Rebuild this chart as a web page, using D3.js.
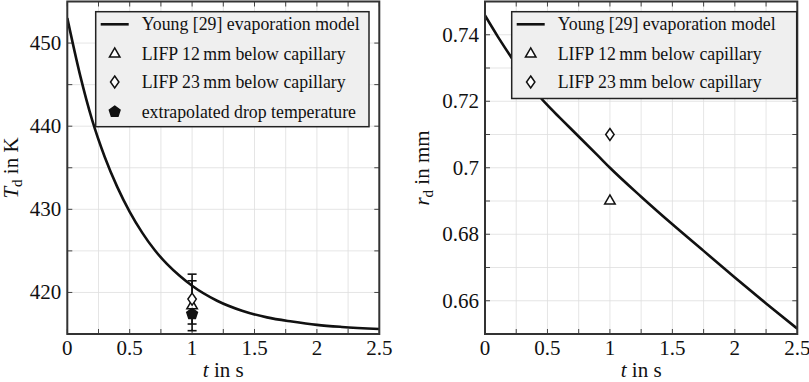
<!DOCTYPE html>
<html>
<head>
<meta charset="utf-8">
<script src="https://cdn.jsdelivr.net/npm/d3@7"></script>
<style>
  body { margin: 0; background: #fff; }
</style>
</head>
<body>
<svg id="chart" width="809" height="382"></svg>
<script>
// Young [29] evaporation model, temperature
const tempTime = [0, 0.1, 0.2, 0.3, 0.4, 0.5, 0.6, 0.7, 0.8, 0.9, 1.0, 1.2, 1.4, 1.6, 1.8, 2.0, 2.2, 2.5];
const tempModel = [453.0, 446.3, 440.7, 436.3, 432.7, 429.7, 427.2, 425.1, 423.4, 422.0, 420.8, 419.0, 417.8, 417.0, 416.5, 416.1, 415.85, 415.6];

// Young [29] evaporation model, radius
const radTime = [0, 0.1, 0.2, 0.3, 0.4, 0.5, 0.6, 0.75, 0.9, 1.0, 1.25, 1.5, 1.75, 2.0, 2.25, 2.5];
const radModel = [0.7458, 0.7396, 0.7338, 0.7282, 0.7231, 0.7188, 0.7150, 0.7094, 0.7038, 0.7000, 0.6913, 0.6830, 0.6750, 0.6670, 0.6592, 0.6516];

// measurements at t = 1 s
const lifp12Temp = { t: 1, v: 418.4, err: 3 };
const lifp23Temp = { t: 1, v: 419.2, err: 3 };
const extrapTemp = { t: 1, v: 417.4 };
const lifp12Rad = { t: 1, v: 0.690 };
const lifp23Rad = { t: 1, v: 0.710 };

const xTicks = [0, 0.5, 1, 1.5, 2, 2.5];
const xMinor = [0.25, 0.75, 1.25, 1.75, 2.25];
const tempTicks = [420, 430, 440, 450];
const tempMinor = [425, 435, 445];
const radTicks = [0.66, 0.68, 0.7, 0.72, 0.74];
const radMinor = [0.65, 0.67, 0.69, 0.71, 0.73, 0.75];

const legendLabels = [
    "Young [29] evaporation model",
    "LIFP 12\u2009mm below capillary",
    "LIFP 23\u2009mm below capillary",
    "extrapolated drop temperature"
];

const svg = d3.select("#chart");

function markerPath(type, size) {
    if (type === "triangle") return d3.symbol(d3.symbolTriangle, size)();
    if (type === "diamond") {
        const w = 4.2, h = 6;
        return `M0,${-h}L${w},0L0,${h}L${-w},0Z`;
    }
    // pentagon
    const r = 5.6;
    return d3.range(5).map((i, k) => {
        const a = -Math.PI / 2 + i * 2 * Math.PI / 5;
        return (k ? "L" : "M") + (r * Math.cos(a)).toFixed(2) + "," + (r * Math.sin(a)).toFixed(2);
    }).join("") + "Z";
}

function drawMarker(g, type, x, y) {
    g.append("path")
        .attr("d", markerPath(type, 48))
        .attr("transform", `translate(${x},${y})`)
        .attr("fill", type === "pentagon" ? "#111" : "#fff")
        .attr("stroke", "#111")
        .attr("stroke-width", 1.5);
}

function addText(g, size) {
    return g.append("text")
        .style("font-family", '"Liberation Serif"')
        .style("font-size", size + "px")
        .style("fill", "#111");
}

function drawPanel(cfg) {
    const g = svg.append("g");
    const x = d3.scaleLinear().domain([0, 2.5]).range([cfg.left, cfg.right]);
    const y = d3.scaleLinear().domain(cfg.yDomain).range([334, 1.5]);

    const clipId = "clip" + cfg.id;
    svg.append("clipPath").attr("id", clipId)
        .append("rect").attr("x", cfg.left).attr("y", 1.5)
        .attr("width", cfg.right - cfg.left).attr("height", 334 - 1.5);

    // grid
    const grid = g.append("g").attr("stroke", "#dedede").attr("stroke-width", 0.8);
    xTicks.concat(xMinor).forEach(v => {
        grid.append("line").attr("x1", x(v)).attr("x2", x(v)).attr("y1", y.range()[0]).attr("y2", y.range()[1]);
    });
    cfg.yTicks.concat(cfg.yMinor).forEach(v => {
        grid.append("line").attr("x1", cfg.left).attr("x2", cfg.right).attr("y1", y(v)).attr("y2", y(v));
    });

    // inward tick marks on all four sides
    const ticks = g.append("g").attr("stroke", "#444").attr("stroke-width", 1);
    xTicks.concat(xMinor).forEach(v => {
        ticks.append("line").attr("x1", x(v)).attr("x2", x(v)).attr("y1", 334).attr("y2", 329);
        ticks.append("line").attr("x1", x(v)).attr("x2", x(v)).attr("y1", 1.5).attr("y2", 6.5);
    });
    cfg.yTicks.concat(cfg.yMinor).forEach(v => {
        ticks.append("line").attr("x1", cfg.left).attr("x2", cfg.left + 5).attr("y1", y(v)).attr("y2", y(v));
        ticks.append("line").attr("x1", cfg.right).attr("x2", cfg.right - 5).attr("y1", y(v)).attr("y2", y(v));
    });

    // model curve
    const line = d3.line().x(d => x(d[0])).y(d => y(d[1])).curve(d3.curveMonotoneX);
    g.append("path")
        .attr("d", line(cfg.time.map((t, i) => [t, cfg.model[i]])))
        .attr("clip-path", `url(#${clipId})`)
        .attr("fill", "none")
        .attr("stroke", "#111")
        .attr("stroke-width", 2.6);

    // measurements
    cfg.points.forEach(p => {
        if (p.err) {
            const cx = x(p.t);
            const eb = g.append("g").attr("stroke", "#111").attr("stroke-width", 1.6);
            eb.append("line").attr("x1", cx).attr("x2", cx).attr("y1", y(p.v - p.err)).attr("y2", y(p.v + p.err));
            [p.v - p.err, p.v + p.err].forEach(v => {
                eb.append("line").attr("x1", cx - 4.5).attr("x2", cx + 4.5).attr("y1", y(v)).attr("y2", y(v));
            });
        }
    });
    cfg.points.forEach(p => drawMarker(g, p.type, x(p.t), y(p.v)));

    // frame
    g.append("rect")
        .attr("x", cfg.left).attr("y", 1.5)
        .attr("width", cfg.right - cfg.left).attr("height", 334 - 1.5)
        .attr("fill", "none").attr("stroke", "#333").attr("stroke-width", 2);

    // tick labels
    xTicks.forEach(v => {
        addText(g, 21).attr("x", x(v)).attr("y", 355)
            .attr("text-anchor", "middle")
            .text(d3.format("")(v));
    });
    cfg.yTicks.forEach(v => {
        addText(g, 21).attr("x", cfg.left - 6).attr("y", y(v) + 7)
            .attr("text-anchor", "end")
            .text(cfg.fmt(v));
    });

    // axis labels
    const xl = addText(g, 21).attr("x", (cfg.left + cfg.right) / 2).attr("y", 377)
        .attr("text-anchor", "middle");
    xl.append("tspan").style("font-style", "italic").text("t");
    xl.append("tspan").text(" in s");

    const yl = addText(g, 21)
        .attr("transform", `translate(${cfg.yLabelX},168) rotate(-90)`)
        .attr("text-anchor", "middle");
    yl.append("tspan").style("font-style", "italic").text(cfg.yVar);
    yl.append("tspan").attr("dy", 4).style("font-size", "15px").text("d");
    yl.append("tspan").attr("dy", -4).text(" " + cfg.yUnit);

    // legend
    const lg = g.append("g");
    lg.append("rect")
        .attr("x", cfg.legend.x).attr("y", 11.7)
        .attr("width", cfg.legend.w).attr("height", cfg.legend.h)
        .attr("fill", "#efefef").attr("stroke", "#222").attr("stroke-width", 1.5);
    const types = ["line", "triangle", "diamond", "pentagon"];
    const rows = [24.3, 54, 82, 111.7];
    cfg.legend.entries.forEach(i => {
        const cy = rows[i];
        const sx = cfg.legend.x + 19;
        if (types[i] === "line") {
            lg.append("line").attr("x1", sx - 14).attr("x2", sx + 14).attr("y1", cy).attr("y2", cy)
                .attr("stroke", "#111").attr("stroke-width", 2.6);
        } else {
            drawMarker(lg, types[i], sx, cy);
        }
        addText(lg, 17.8).attr("x", cfg.legend.x + 46).attr("y", cy + 6)
            .text(legendLabels[i]);
    });
}

drawPanel({
    id: "T",
    left: 67.3, right: 379.3,
    yDomain: [415, 455],
    yTicks: tempTicks, yMinor: tempMinor,
    fmt: d3.format("d"),
    time: tempTime, model: tempModel,
    points: [
        Object.assign({ type: "triangle" }, lifp12Temp),
        Object.assign({ type: "diamond" }, lifp23Temp),
        Object.assign({ type: "pentagon" }, extrapTemp)
    ],
    yLabelX: 18, yVar: "T", yUnit: "in K",
    legend: { x: 95.7, w: 273.3, h: 115, entries: [0, 1, 2, 3] }
});

drawPanel({
    id: "r",
    left: 485, right: 797.3,
    yDomain: [0.65, 0.75],
    yTicks: radTicks, yMinor: radMinor,
    fmt: v => d3.format("")(+v.toFixed(2)),
    time: radTime, model: radModel,
    points: [
        Object.assign({ type: "triangle" }, lifp12Rad),
        Object.assign({ type: "diamond" }, lifp23Rad)
    ],
    yLabelX: 429, yVar: "r", yUnit: "in mm",
    legend: { x: 511.7, w: 285, h: 86.8, entries: [0, 1, 2] }
});
</script>
</body>
</html>
